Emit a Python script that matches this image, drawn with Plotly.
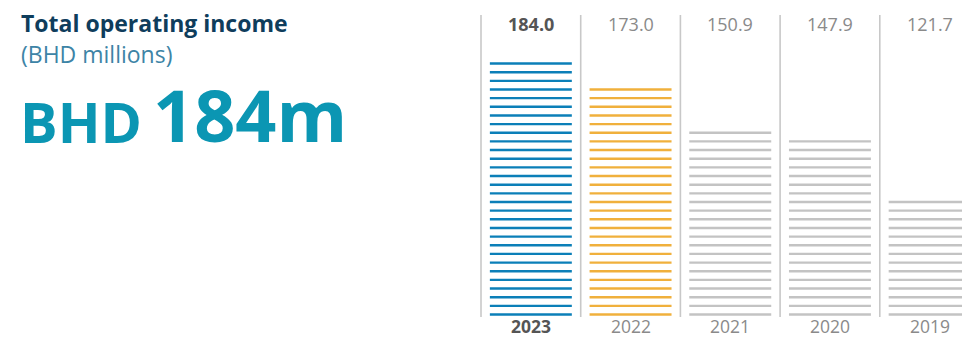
import plotly.graph_objects as go

# Total operating income, BHD millions
years = ["2023", "2022", "2021", "2020", "2019"]
values = [184.0, 173.0, 150.9, 147.9, 121.7]
colors = ["#0b7fb8", "#f0b03c", "#c3c3c3", "#c3c3c3", "#c3c3c3"]

# stripe grid used to draw each bar as horizontal rules
stripe_base = 68.5
stripe_step = 3.9
bar_half = 0.411

W, H = 962, 339
Y0, Y1 = 57.46, 210.23          # y-axis range over the full figure height


def yval(py):
    """Convert a pixel row (from the top) into a y-axis value."""
    return Y1 - py * (Y1 - Y0) / H


fig = go.Figure()

for i, (yr, v, c) in enumerate(zip(years, values, colors)):
    xs, ys = [], []
    k = 0
    while stripe_base + k * stripe_step <= v:
        y = stripe_base + k * stripe_step
        xs += [i - bar_half, i + bar_half, None]
        ys += [y, y, None]
        k += 1
    fig.add_trace(go.Scatter(x=xs, y=ys, mode="lines",
                             line=dict(color=c, width=2.4),
                             hoverinfo="skip", showlegend=False))
    bold = i == 0
    fig.add_annotation(x=i, y=yval(23.7), xref="x", yref="y",
                       text=f"<b>{v:.1f}</b>" if bold else f"{v:.1f}",
                       showarrow=False, xanchor="center", yanchor="middle",
                       font=dict(family="Open Sans", size=18,
                                 color="#555555" if bold else "#8a8a8a"))
    fig.add_annotation(x=i, y=0, xref="x", yref="paper",
                       text=f"<b>{yr}</b>" if bold else yr,
                       showarrow=False, xanchor="center", yanchor="bottom",
                       borderpad=0,
                       font=dict(family="Open Sans", size=17.5,
                                 color="#555555" if bold else "#8a8a8a"))

# column separators
for i in range(len(years) + 1):
    fig.add_shape(type="line", x0=i - 0.5, x1=i - 0.5, y0=yval(317), y1=yval(15),
                  xref="x", yref="y", line=dict(color="#c8c8c8", width=1.6))


def px(x, y):
    return x / W, 1 - y / H


tx, ty = px(19, 23)
fig.add_annotation(x=tx, y=ty, xref="paper", yref="paper", text="<b>Total operating income</b>",
                   showarrow=False, xanchor="left", yanchor="middle",
                   font=dict(family="Open Sans", size=23, color="#0f3d5c"))
tx, ty = px(19, 54)
fig.add_annotation(x=tx, y=ty, xref="paper", yref="paper", text="(BHD millions)",
                   showarrow=False, xanchor="left", yanchor="middle",
                   font=dict(family="Open Sans", size=23, color="#3d84a6"))
tx, ty = px(18, 121)
fig.add_annotation(x=tx, y=ty, xref="paper", yref="paper", text="<b>BHD</b>",
                   showarrow=False, xanchor="left", yanchor="middle",
                   font=dict(family="Open Sans", size=56, color="#0b96b3"))
tx, ty = px(151, 114)
fig.add_annotation(x=tx, y=ty, xref="paper", yref="paper", text="<b>184m</b>",
                   showarrow=False, xanchor="left", yanchor="middle",
                   font=dict(family="Open Sans", size=72, color="#0b96b3"))

fig.update_layout(
    width=W, height=H,
    margin=dict(l=0, r=0, t=0, b=0),
    paper_bgcolor="white", plot_bgcolor="white",
    xaxis=dict(range=[-5.3245, 4.3245], visible=False, fixedrange=True),
    yaxis=dict(range=[Y0, Y1], visible=False, fixedrange=True),
)

fig.write_html("out.html", config={"displayModeBar": False})
